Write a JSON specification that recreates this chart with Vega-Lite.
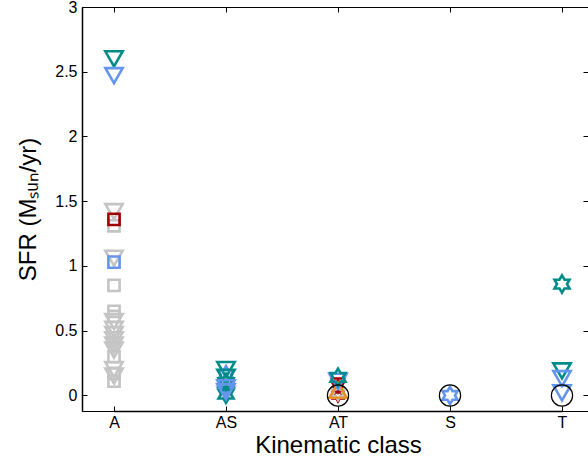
{
  "$schema": "https://vega.github.io/schema/vega-lite/v6.json",
  "width": 506,
  "height": 404,
  "autosize": "none",
  "padding": {"left": 82, "top": 7, "right": 0, "bottom": 55},
  "config": {
    "font": "Liberation Sans",
    "view": {"stroke": "black", "strokeWidth": 1},
    "axis": {"grid": false, "labelColor": "black", "titleColor": "black", "tickColor": "black", "domainColor": "black"}
  },
  "data": {
    "values": [
      {"kin": "A", "sfr": 2.6, "grp": "tri_teal"},
      {"kin": "A", "sfr": 2.47, "grp": "tri_blue"},
      {"kin": "A", "sfr": 1.42, "grp": "tri_gray"},
      {"kin": "A", "sfr": 1.31, "grp": "sq_gray"},
      {"kin": "A", "sfr": 1.36, "grp": "sq_red"},
      {"kin": "A", "sfr": 1.06, "grp": "tri_gray"},
      {"kin": "A", "sfr": 1.03, "grp": "sq_blue"},
      {"kin": "A", "sfr": 0.85, "grp": "sq_gray"},
      {"kin": "A", "sfr": 0.65, "grp": "sq_gray"},
      {"kin": "A", "sfr": 0.61, "grp": "sq_gray"},
      {"kin": "A", "sfr": 0.57, "grp": "tri_gray"},
      {"kin": "A", "sfr": 0.51, "grp": "tri_gray"},
      {"kin": "A", "sfr": 0.47, "grp": "tri_gray"},
      {"kin": "A", "sfr": 0.43, "grp": "tri_gray"},
      {"kin": "A", "sfr": 0.39, "grp": "tri_gray"},
      {"kin": "A", "sfr": 0.35, "grp": "tri_gray"},
      {"kin": "A", "sfr": 0.3, "grp": "sq_gray"},
      {"kin": "A", "sfr": 0.2, "grp": "tri_gray"},
      {"kin": "A", "sfr": 0.17, "grp": "sq_gray"},
      {"kin": "A", "sfr": 0.15, "grp": "tri_gray"},
      {"kin": "A", "sfr": 0.11, "grp": "sq_gray"},
      {"kin": "AS", "sfr": 0.01, "grp": "tri_gray"},
      {"kin": "AS", "sfr": 0.2, "grp": "tri_teal"},
      {"kin": "AS", "sfr": 0.16, "grp": "star_blue"},
      {"kin": "AS", "sfr": 0.14, "grp": "tri_teal"},
      {"kin": "AS", "sfr": 0.1, "grp": "star_teal"},
      {"kin": "AS", "sfr": 0.06, "grp": "tri_blue"},
      {"kin": "AS", "sfr": 0.01, "grp": "star_teal"},
      {"kin": "AS", "sfr": 0.03, "grp": "tri_blue"},
      {"kin": "AT", "sfr": 0.07, "grp": "star_red"},
      {"kin": "AT", "sfr": 0.0, "grp": "star_red"},
      {"kin": "AT", "sfr": 0.09, "grp": "tri_red"},
      {"kin": "AT", "sfr": 0.02, "grp": "star_gray"},
      {"kin": "AT", "sfr": 0.04, "grp": "triup_orange"},
      {"kin": "AT", "sfr": 0.11, "grp": "tri_blue"},
      {"kin": "AT", "sfr": 0.14, "grp": "star_teal"},
      {"kin": "S", "sfr": 0.0, "grp": "star_blue"},
      {"kin": "T", "sfr": 0.86, "grp": "star_teal"},
      {"kin": "T", "sfr": 0.19, "grp": "tri_teal"},
      {"kin": "T", "sfr": 0.13, "grp": "tri_blue"},
      {"kin": "T", "sfr": 0.02, "grp": "tri_blue"},
      {"kin": "AT", "sfr": 0.0, "grp": "ring"},
      {"kin": "S", "sfr": 0.0, "grp": "ring"},
      {"kin": "T", "sfr": 0.0, "grp": "ring"}
    ]
  },
  "layer": [
    {
      "transform": [{"filter": "datum.grp != 'ring'"}],
      "mark": {"type": "point", "filled": false, "strokeWidth": 2.6, "opacity": 1},
      "encoding": {
        "x": {
          "field": "kin", "type": "nominal", "sort": null,
          "scale": {"type": "point", "domain": ["A", "AS", "AT", "S", "T"], "range": [32, 480], "padding": 0},
          "axis": {"orient": "bottom", "title": "Kinematic class", "labelAngle": 0, "labelFontSize": 16, "titleFontSize": 24, "titleFontWeight": "normal", "tickSize": -5, "labelPadding": 8, "titlePadding": 3, "domainWidth": 1.5}
        },
        "y": {
          "field": "sfr", "type": "quantitative",
          "scale": {"domain": [-0.12, 3], "nice": false, "zero": false},
          "axis": {"orient": "left", "title": "SFR (Mₛᵤₙ/yr)", "values": [0, 0.5, 1, 1.5, 2, 2.5, 3], "format": "~g", "labelFontSize": 16, "titleFontSize": 24, "titleFontWeight": "normal", "tickSize": -5, "labelPadding": 10, "titlePadding": 14, "domainWidth": 1.5}
        },
        "color": {
          "field": "grp", "type": "nominal", "legend": null,
          "scale": {
            "domain": ["tri_teal", "tri_blue", "tri_gray", "sq_gray", "sq_red", "sq_blue", "star_teal", "star_blue", "star_red", "star_gray", "tri_red", "triup_orange"],
            "range": ["#008b8b", "#6495ed", "#c4c4c4", "#c4c4c4", "#a00000", "#6495ed", "#008b8b", "#6495ed", "#a00000", "#c4c4c4", "#a00000", "#e8912c"]
          }
        },
        "shape": {
          "field": "grp", "type": "nominal", "legend": null,
          "scale": {
            "domain": ["tri_teal", "tri_blue", "tri_gray", "sq_gray", "sq_red", "sq_blue", "star_teal", "star_blue", "star_red", "star_gray", "tri_red", "triup_orange"],
            "range": ["triangle-down", "triangle-down", "triangle-down", "square", "square", "square",
              "M0,-1L0.289,-0.5L0.866,-0.5L0.577,0L0.866,0.5L0.289,0.5L0,1L-0.289,0.5L-0.866,0.5L-0.577,0L-0.866,-0.5L-0.289,-0.5Z",
              "M0,-1L0.289,-0.5L0.866,-0.5L0.577,0L0.866,0.5L0.289,0.5L0,1L-0.289,0.5L-0.866,0.5L-0.577,0L-0.866,-0.5L-0.289,-0.5Z",
              "M0,-1L0.289,-0.5L0.866,-0.5L0.577,0L0.866,0.5L0.289,0.5L0,1L-0.289,0.5L-0.866,0.5L-0.577,0L-0.866,-0.5L-0.289,-0.5Z",
              "M0,-1L0.289,-0.5L0.866,-0.5L0.577,0L0.866,0.5L0.289,0.5L0,1L-0.289,0.5L-0.866,0.5L-0.577,0L-0.866,-0.5L-0.289,-0.5Z",
              "triangle-down", "triangle-up"]
          }
        },
        "size": {
          "field": "grp", "type": "nominal", "legend": null,
          "scale": {
            "type": "ordinal",
            "domain": ["tri_teal", "tri_blue", "tri_gray", "sq_gray", "sq_red", "sq_blue", "star_teal", "star_blue", "star_red", "star_gray", "tri_red", "triup_orange"],
            "range": [300, 300, 300, 125, 125, 125, 300, 300, 140, 200, 150, 300]
          }
        }
      }
    },
    {
      "transform": [{"filter": "datum.grp == 'ring'"}],
      "mark": {"type": "point", "shape": "circle", "filled": false, "strokeWidth": 1.2, "color": "black", "size": 450, "opacity": 1},
      "encoding": {
        "x": {
          "field": "kin", "type": "nominal", "sort": null,
          "scale": {"type": "point", "domain": ["A", "AS", "AT", "S", "T"], "range": [32, 480], "padding": 0},
          "axis": {"orient": "top", "title": null, "labels": false, "tickSize": -5, "domain": false}
        },
        "y": {
          "field": "sfr", "type": "quantitative",
          "scale": {"domain": [-0.12, 3], "nice": false, "zero": false},
          "axis": {"orient": "right", "title": null, "labels": false, "values": [0, 0.5, 1, 1.5, 2, 2.5, 3], "tickSize": -5, "domain": false}
        }
      }
    }
  ],
  "resolve": {"axis": {"x": "independent", "y": "independent"}}
}
